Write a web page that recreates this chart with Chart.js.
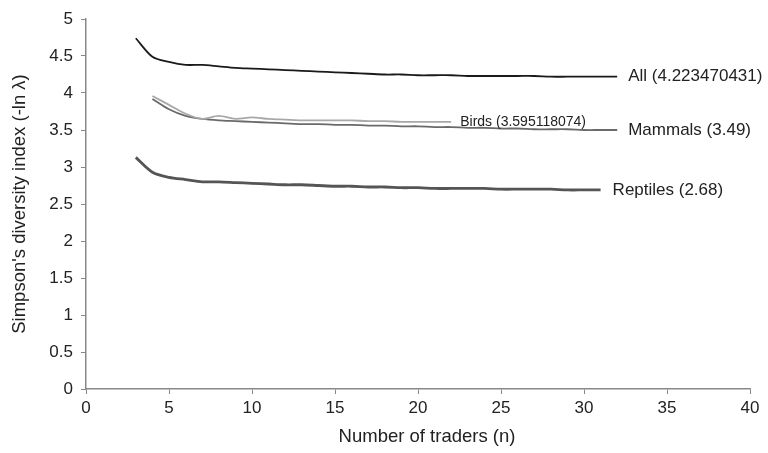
<!DOCTYPE html>
<html>
<head>
<meta charset="utf-8">
<script src="https://cdn.jsdelivr.net/npm/chart.js@4/dist/chart.umd.min.js"></script>
<style>
html,body{margin:0;padding:0;background:#fff;}
#wrap{width:768px;height:453px;position:relative;}
</style>
</head>
<body>
<div id="wrap"><canvas id="c" width="768" height="453"></canvas></div>
<script>
const allX = [3,4,5,6,7,8,9,10,11,12,13,14,15,16,17,18,19,20,21,22,23,24,25,26,27,28,29,30,31,32];
const allY = [4.74,4.49,4.42,4.38,4.38,4.36,4.34,4.33,4.32,4.31,4.30,4.29,4.28,4.27,4.26,4.25,4.25,4.24,4.24,4.24,4.23,4.23,4.23,4.23,4.23,4.22,4.22,4.22,4.22,4.22];
const birdsX = [4,5,6,7,8,9,10,11,12,13,14,15,16,17,18,19,20,21,22];
const birdsY = [3.96,3.84,3.72,3.65,3.69,3.65,3.67,3.65,3.64,3.63,3.63,3.63,3.63,3.62,3.62,3.61,3.61,3.61,3.61];
const mammalsX = [4,5,6,7,8,9,10,11,12,13,14,15,16,17,18,19,20,21,22,23,24,25,26,27,28,29,30,31,32];
const mammalsY = [3.92,3.78,3.69,3.65,3.63,3.62,3.61,3.60,3.59,3.58,3.58,3.57,3.57,3.56,3.56,3.55,3.55,3.54,3.54,3.53,3.53,3.52,3.52,3.51,3.51,3.51,3.50,3.50,3.50];
const reptilesX = [3,4,5,6,7,8,9,10,11,12,13,14,15,16,17,18,19,20,21,22,23,24,25,26,27,28,29,30,31];
const reptilesY = [3.13,2.93,2.86,2.83,2.80,2.80,2.79,2.78,2.77,2.76,2.76,2.75,2.74,2.74,2.73,2.73,2.72,2.72,2.71,2.71,2.71,2.71,2.70,2.70,2.70,2.70,2.69,2.69,2.69];
const seriesLabels = ["All (4.223470431)", "Birds (3.595118074)", "Mammals (3.49)", "Reptiles (2.68)"];
const xTitle = "Number of traders (n)";
const yTitle = "Simpson's diversity index (-ln \u03bb)";

function pts(xs, ys){ return xs.map((x,i)=>({x:x, y:ys[i]})); }

const FONT = "'Liberation Sans', Arial, sans-serif";

const textPlugin = {
  id:'textPlugin',
  afterDatasetsDraw(chart){
    const ctx = chart.ctx;
    const xs = chart.scales.x, ys = chart.scales.y;
    const ca = chart.chartArea;
    const cfg = [
      {ds:0, dx:11, dy:0, size:17},
      {ds:1, dx:9, dy:0, size:14},
      {ds:2, dx:11, dy:0, size:17},
      {ds:3, dx:12, dy:0, size:17}
    ];
    ctx.save();
    ctx.textBaseline = 'middle';
    ctx.textAlign = 'left';
    ctx.fillStyle = '#222';
    cfg.forEach(c=>{
      const d = chart.data.datasets[c.ds].data;
      const last = d[d.length-1];
      const px = xs.getPixelForValue(last.x) + c.dx;
      const py = ys.getPixelForValue(last.y) + c.dy;
      ctx.font = c.size + 'px ' + FONT;
      ctx.fillText(seriesLabels[c.ds], px, py);
    });
    // axis titles
    ctx.font = '18.5px ' + FONT;
    ctx.textAlign = 'center';
    ctx.fillText(xTitle, (ca.left + ca.right)/2 + 9, ca.bottom + 48);
    ctx.translate(20, (ca.top + ca.bottom)/2);
    ctx.rotate(-Math.PI/2);
    ctx.fillText(yTitle, 0, 0);
    ctx.restore();
  }
};

new Chart(document.getElementById('c'), {
  type:'line',
  data:{
    datasets:[
      {label:seriesLabels[0], data:pts(allX, allY), borderColor:'#1a1a1a', borderWidth:1.8, pointRadius:0, tension:0.3, fill:false},
      {label:seriesLabels[1], data:pts(birdsX, birdsY), borderColor:'#a8a8a8', borderWidth:1.8, pointRadius:0, tension:0.3, fill:false},
      {label:seriesLabels[2], data:pts(mammalsX, mammalsY), borderColor:'#6a6a6a', borderWidth:1.8, pointRadius:0, tension:0.3, fill:false},
      {label:seriesLabels[3], data:pts(reptilesX, reptilesY), borderColor:'#555555', borderWidth:2.8, pointRadius:0, tension:0.3, fill:false}
    ]
  },
  options:{
    responsive:false,
    animation:false,
    layout:{padding:{left:0, right:18, top:19, bottom:0}},
    plugins:{legend:{display:false}, tooltip:{enabled:false}},
    scales:{
      x:{
        type:'linear', min:0, max:40,
        ticks:{stepSize:5, color:'#222', font:{family:FONT, size:17}, padding:4},
        grid:{drawOnChartArea:false, drawTicks:true, tickLength:5, color:'#888'},
        border:{color:'#888', width:1.5},
        afterFit(s){ s.height = 64; }
      },
      y:{
        type:'linear', min:0, max:5,
        ticks:{stepSize:0.5, color:'#222', font:{family:FONT, size:17}, padding:8,
          callback:(v)=>String(Math.round(v*10)/10)},
        grid:{drawOnChartArea:false, drawTicks:true, tickLength:5, color:'#888'},
        border:{color:'#888', width:1.5},
        afterFit(s){ s.width = 86; }
      }
    }
  },
  plugins:[textPlugin]
});
</script>
</body>
</html>
